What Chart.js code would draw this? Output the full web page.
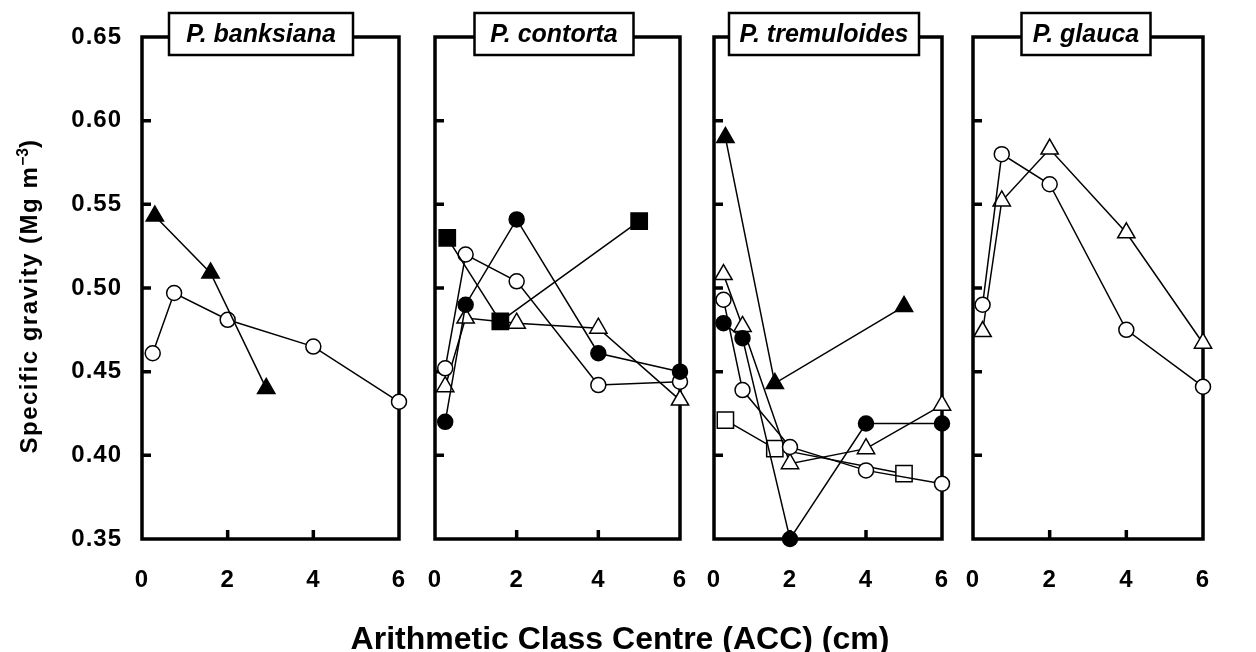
<!DOCTYPE html>
<html>
<head>
<meta charset="utf-8">
<script src="https://cdn.jsdelivr.net/npm/chart.js@4.4.1/dist/chart.umd.min.js"></script>
<style>
  body { margin: 0; background: #fff; }
  #wrap { position: relative; width: 1256px; height: 652px; overflow: hidden; font-family: "Liberation Sans", Arial, sans-serif; }
  .panel { position: absolute; top: 0; height: 652px; }
  #xTitle { position: absolute; left: 0; width: 1240px; top: 622px; line-height: 32px; text-align: center; font-weight: bold; font-size: 32px; }
  #yTitle { position: absolute; left: -177px; top: 283px; width: 400px; height: 26px; line-height: 26px; text-align: center;
            font-weight: bold; font-size: 24px; letter-spacing: 1.5px; transform: rotate(-90deg); white-space: nowrap; }
  #yTitle sup { font-size: 0.65em; letter-spacing: 0; }
</style>
</head>
<body>
<div id="wrap">
  <div class="panel" id="p0"><canvas id="c0"></canvas></div>
  <div class="panel" id="p1"><canvas id="c1"></canvas></div>
  <div class="panel" id="p2"><canvas id="c2"></canvas></div>
  <div class="panel" id="p3"><canvas id="c3"></canvas></div>
  <div id="yTitle">Specific gravity (Mg m<sup>−3</sup>)</div>
  <div id="xTitle">Arithmetic Class Centre (ACC) (cm)</div>
</div>
<script>
// class centres (cm)
const accFive = [0.25, 0.75, 2, 4, 6];
const accThree = [0.3, 1.6, 5];
const accBanksTri = [0.3, 1.6, 2.9];

const panelTitles = ['P. banksiana', 'P. contorta', 'P. tremuloides', 'P. glauca'];
const yTicks = [0.35, 0.40, 0.45, 0.50, 0.55, 0.60, 0.65];
const xTicks = [0, 2, 4, 6];

// P. banksiana
const banksianaTriFilled = [0.543, 0.509, 0.440];
const banksianaCircle = [0.461, 0.497, 0.481, 0.465, 0.432];
// P. contorta
const contortaSquareFilled = [0.530, 0.480, 0.540];
const contortaDot = [0.420, 0.490, 0.541, 0.461, 0.450];
const contortaCircle = [0.452, 0.520, 0.504, 0.442, 0.444];
const contortaTriangle = [0.441, 0.482, 0.479, 0.476, 0.433];
// P. tremuloides
const tremTriFilled = [0.590, 0.443, 0.489];
const tremTriangle = [0.508, 0.477, 0.395, 0.404, 0.430];
const tremCircle = [0.493, 0.439, 0.405, 0.391, 0.383];
const tremDot = [0.479, 0.470, 0.350, 0.419, 0.419];
const tremSquare = [0.421, 0.404, 0.389];
// P. glauca
const glaucaCircle = [0.490, 0.580, 0.562, 0.475, 0.441];
const glaucaTriangle = [0.474, 0.552, 0.583, 0.533, 0.467];

const FONT = '"Liberation Sans", Arial, sans-serif';
const TOP = 37, BOTTOM = 539, H = 652;

const markers = {
  dot:      { pointStyle: 'circle',   pointRadius: 7.5,  fill: true },
  circle:   { pointStyle: 'circle',   pointRadius: 7.5,  fill: false },
  triFill:  { pointStyle: 'triangle', pointRadius: 10,   fill: true },
  tri:      { pointStyle: 'triangle', pointRadius: 10,   fill: false },
  sqFill:   { pointStyle: 'rect',     pointRadius: 11.5, fill: true },
  sq:       { pointStyle: 'rect',     pointRadius: 11.5, fill: false }
};

function series(xs, ys, kind) {
  const m = markers[kind];
  return {
    data: xs.map((x, i) => ({ x: x, y: ys[i] })),
    borderColor: '#000',
    borderWidth: 1.5,
    tension: 0,
    fill: false,
    clip: false,
    pointStyle: m.pointStyle,
    pointRadius: m.pointRadius,
    pointHoverRadius: m.pointRadius,
    pointBorderColor: '#000',
    pointBorderWidth: 1.5,
    pointBackgroundColor: m.fill ? '#000' : '#fff'
  };
}

const panelData = [
  [series(accBanksTri, banksianaTriFilled, 'triFill'), series(accFive, banksianaCircle, 'circle')],
  [series(accThree, contortaSquareFilled, 'sqFill'), series(accFive, contortaDot, 'dot'),
   series(accFive, contortaCircle, 'circle'), series(accFive, contortaTriangle, 'tri')],
  [series(accThree, tremTriFilled, 'triFill'), series(accFive, tremDot, 'dot'),
   series(accFive, tremCircle, 'circle'), series(accFive, tremTriangle, 'tri'), series(accThree, tremSquare, 'sq')],
  [series(accFive, glaucaCircle, 'circle'), series(accFive, glaucaTriangle, 'tri')]
];

// frame geometry on the page
const frames = [
  { left: 142, right: 399, boxC: 261, boxW: 184 },
  { left: 435, right: 680, boxC: 554, boxW: 159 },
  { left: 714, right: 942, boxC: 824, boxW: 190 },
  { left: 973, right: 1203, boxC: 1086, boxW: 129 }
];

const framePlugin = {
  id: 'frame',
  beforeDraw(chart) {
    chart.ctx.letterSpacing = '1px';
  },
  beforeDatasetsDraw(chart) {
    const { ctx, chartArea: a, scales: { x, y } } = chart;
    ctx.save();
    ctx.strokeStyle = '#000';
    ctx.lineWidth = 3.5;
    ctx.strokeRect(a.left, a.top, a.right - a.left, a.bottom - a.top);
    ctx.beginPath();
    yTicks.slice(1, -1).forEach(v => {
      const py = y.getPixelForValue(v);
      ctx.moveTo(a.left, py); ctx.lineTo(a.left + 9, py);
    });
    xTicks.slice(1, -1).forEach(v => {
      const px = x.getPixelForValue(v);
      ctx.moveTo(px, a.bottom); ctx.lineTo(px, a.bottom - 9);
    });
    ctx.stroke();
    ctx.restore();
  },
  afterDraw(chart) {
    const o = chart.options.plugins.frame;
    const ctx = chart.ctx;
    ctx.save();
    ctx.letterSpacing = '0px';
    ctx.fillStyle = '#fff';
    ctx.fillRect(o.cx - o.w / 2, 13, o.w, 42);
    ctx.strokeStyle = '#000';
    ctx.lineWidth = 2.5;
    ctx.strokeRect(o.cx - o.w / 2, 13, o.w, 42);
    ctx.fillStyle = '#000';
    ctx.font = 'italic bold 25px ' + FONT;
    ctx.textAlign = 'center';
    ctx.textBaseline = 'middle';
    ctx.fillText(o.title, o.cx, 35);
    ctx.restore();
  }
};

frames.forEach((f, i) => {
  const yw = i === 0 ? f.left : 20;
  const divLeft = f.left - yw;
  const div = document.getElementById('p' + i);
  div.style.left = divLeft + 'px';
  div.style.width = (f.right - f.left + yw + 20) + 'px';

  new Chart(document.getElementById('c' + i), {
    type: 'line',
    data: { datasets: panelData[i] },
    plugins: [framePlugin],
    options: {
      responsive: true,
      maintainAspectRatio: false,
      animation: false,
      events: [],
      layout: { padding: { top: TOP, right: 20, left: 0, bottom: 0 } },
      plugins: {
        legend: { display: false },
        tooltip: { enabled: false },
        frame: { title: panelTitles[i], cx: f.boxC - divLeft, w: f.boxW }
      },
      scales: {
        x: {
          type: 'linear', min: 0, max: 6,
          border: { display: false },
          grid: { display: false, drawTicks: false },
          afterBuildTicks: s => { s.ticks = xTicks.map(v => ({ value: v })); },
          afterFit: s => { s.height = H - BOTTOM; s.paddingLeft = 0; s.paddingRight = 0; },
          ticks: { color: '#000', padding: 27, maxRotation: 0, autoSkip: false,
                   font: { family: FONT, size: 24, weight: 'bold' } }
        },
        y: {
          min: 0.35, max: 0.65,
          border: { display: false },
          grid: { display: false, drawTicks: false },
          afterBuildTicks: s => { s.ticks = yTicks.map(v => ({ value: v })); },
          afterFit: s => { s.width = yw; s.paddingTop = 0; s.paddingBottom = 0; },
          ticks: { display: i === 0, color: '#000', padding: 20,
                   callback: v => v.toFixed(2),
                   font: { family: FONT, size: 24, weight: 'bold' } }
        }
      }
    }
  });
});
</script>
</body>
</html>
